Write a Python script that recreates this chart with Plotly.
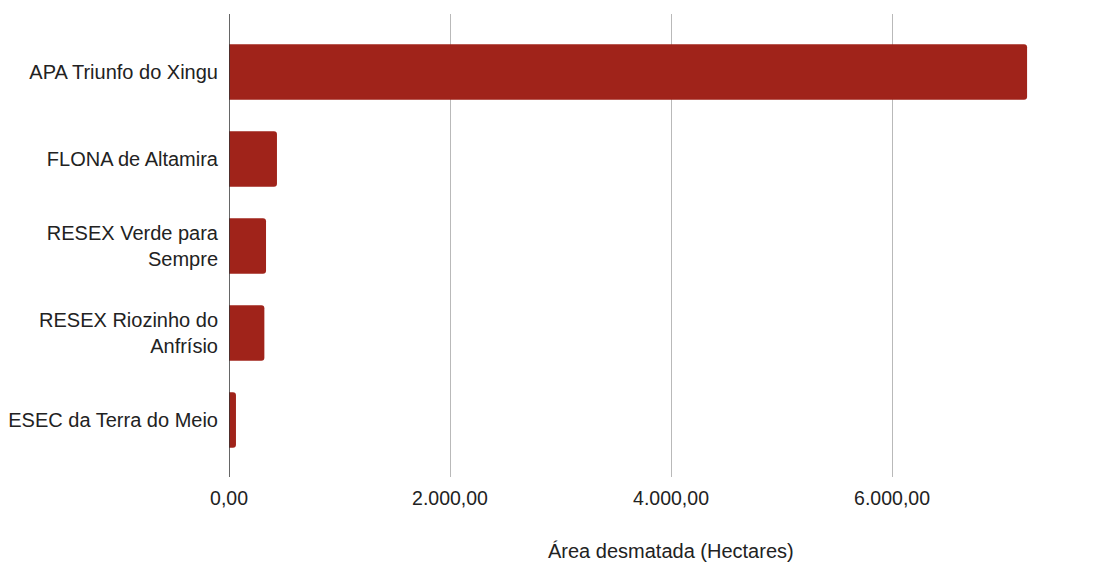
import plotly.graph_objects as go

categories = [
    "APA Triunfo do Xingu",
    "FLONA de Altamira",
    "RESEX Verde para<br>Sempre",
    "RESEX Riozinho do<br>Anfrísio",
    "ESEC da Terra do Meio",
]
values = [7222, 434, 335, 320, 63]
tick_vals = [0, 2000, 4000, 6000]
tick_text = ["0,00", "2.000,00", "4.000,00", "6.000,00"]

# page body has an 8px default margin
W, H = 1099, 555
L, T = 221, 6
x_max = 7900
plot_w = 221.0 / 2000 * x_max
R = W - L - plot_w
B = H - 469

fig = go.Figure(go.Bar(
    y=categories, x=values, orientation="h",
    marker=dict(color="#A0231A", line=dict(width=0)),
    width=0.64,
))

fig.update_layout(
    width=W, height=H,
    margin=dict(l=L, r=R, t=T, b=B, autoexpand=False),
    paper_bgcolor="white", plot_bgcolor="white",
    showlegend=False,
    barcornerradius=3,
    font=dict(family="Liberation Sans, Arial, sans-serif", size=20, color="#222222"),
    xaxis=dict(
        range=[0, x_max], tickvals=tick_vals, ticktext=tick_text,
        showgrid=True, gridcolor="#b9b9b9", gridwidth=1.2,
        zeroline=False, showline=False, ticks="", ticklabelstandoff=7,
        tickfont=dict(size=19.5), automargin=False,
    ),
    yaxis=dict(
        categoryorder="array", categoryarray=categories,
        range=[4.655, -0.667], showgrid=False, zeroline=False,
        ticks="", ticklabelstandoff=10,
        tickfont=dict(size=20), automargin=False,
    ),
    shapes=[dict(type="line", xref="x", yref="paper", x0=0, x1=0, y0=0, y1=1,
                 line=dict(color="#333333", width=1.5))],
    annotations=[dict(text="Área desmatada (Hectares)", xref="x", yref="paper",
                      x=4000, y=-0.16, showarrow=False, yanchor="middle",
                      font=dict(size=20, color="#222222"))],
)

fig.write_html("out.html")
